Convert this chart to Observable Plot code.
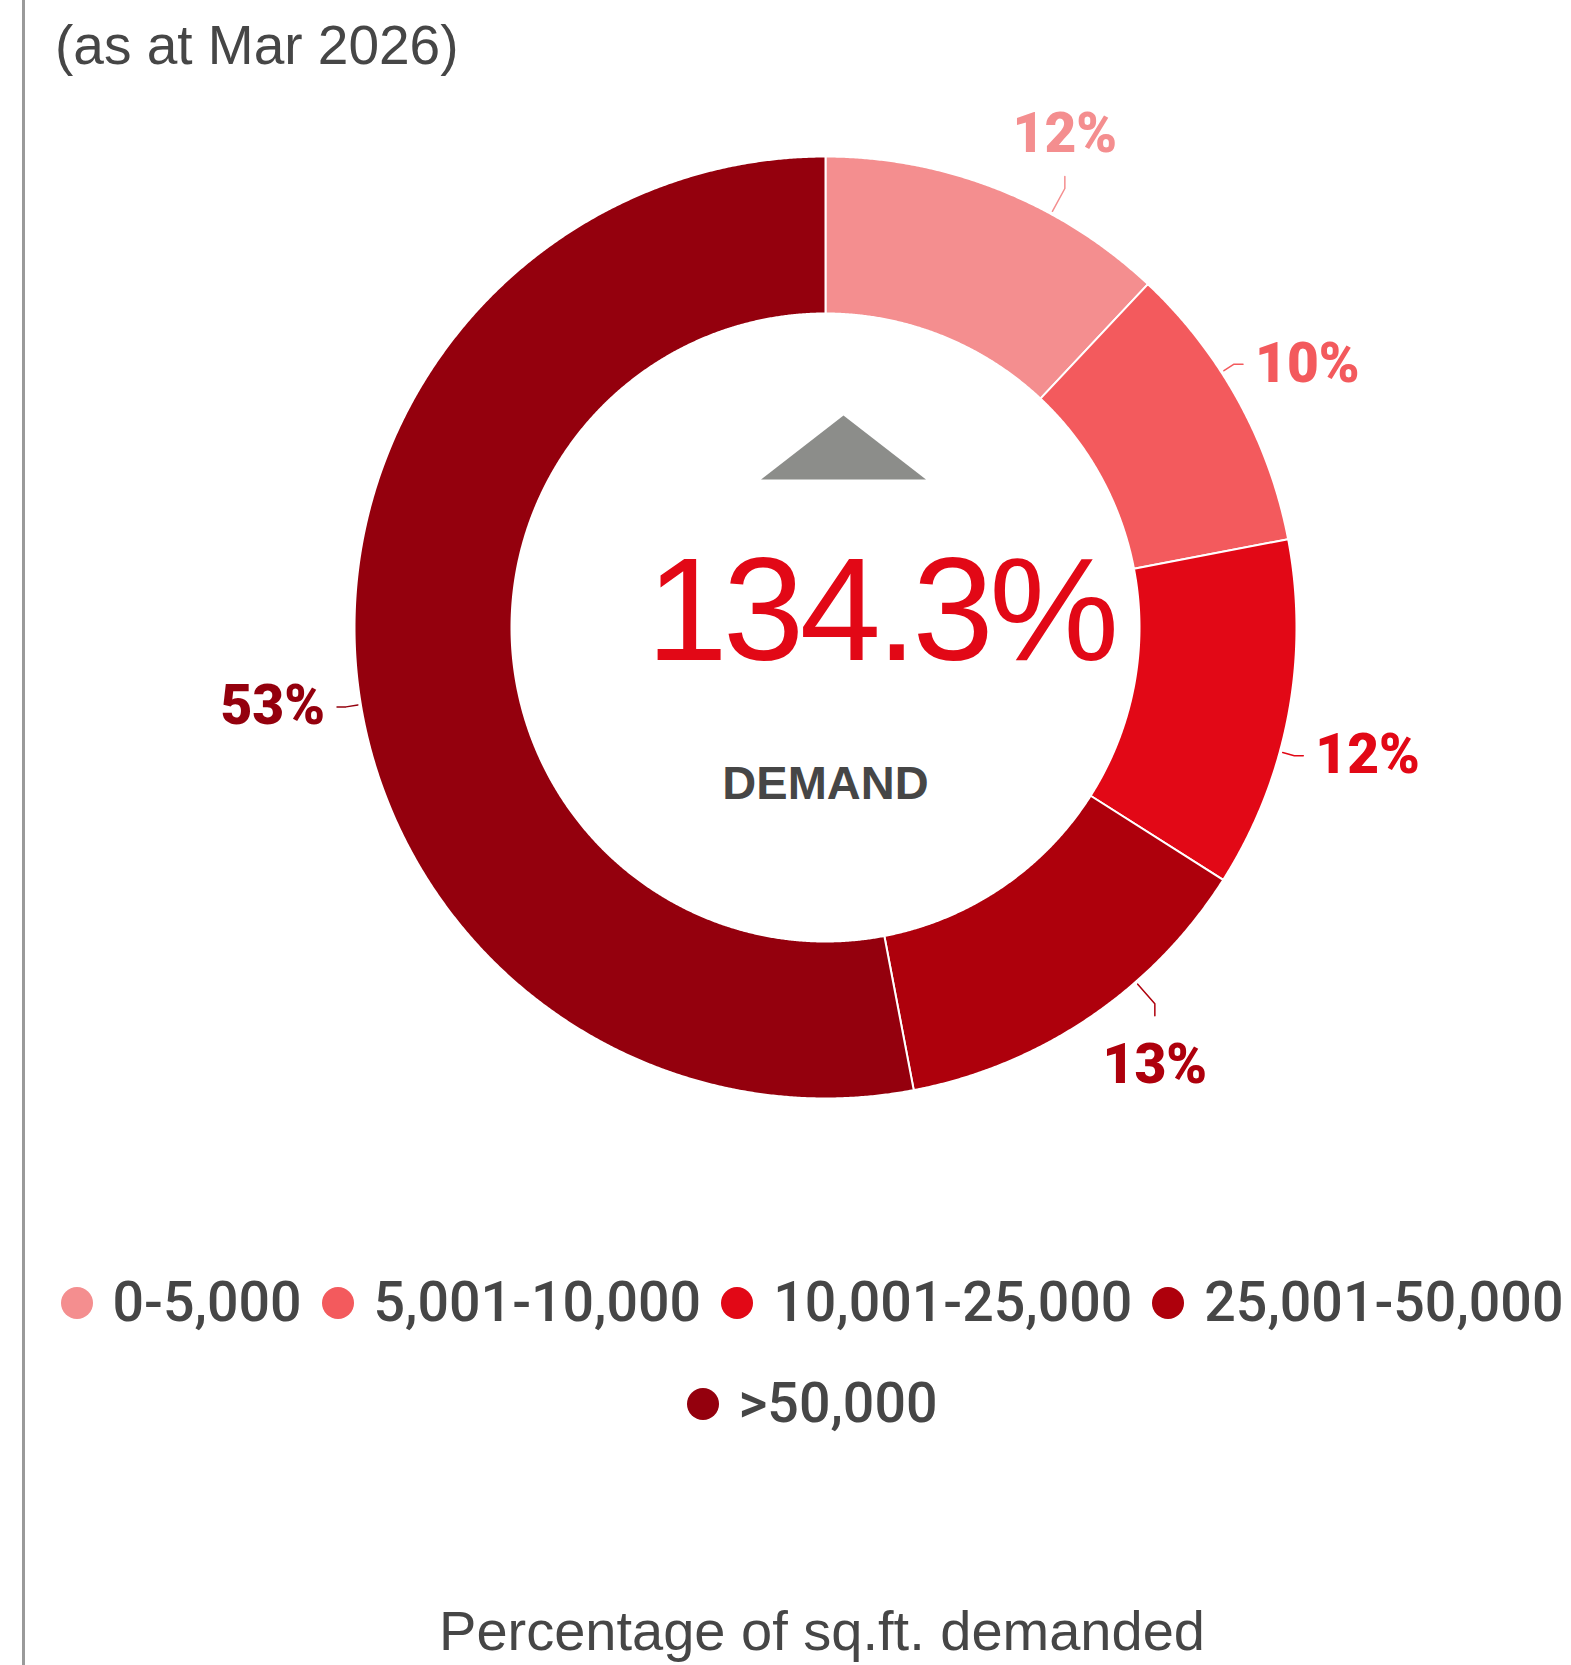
<!DOCTYPE html>
<html><head><meta charset="utf-8">
<script src="https://cdn.jsdelivr.net/npm/d3@7"></script>
<script src="https://cdn.jsdelivr.net/npm/@observablehq/plot@0.6"></script>
<style>
html,body{margin:0;padding:0;background:#fff;}
#page{position:relative;width:1571px;height:1665px;overflow:hidden;background:#fff;}
#rule{position:absolute;left:22px;top:0;width:3px;height:1665px;background:#9a9a9a;}
#subtitle{position:absolute;left:55px;top:18px;font:55px/55px "Liberation Sans",Arial,sans-serif;color:#464646;white-space:nowrap;}
#chart{position:absolute;left:0;top:90px;}
#legend{position:absolute;left:42px;width:1540px;top:1273px;display:flex;flex-wrap:wrap;justify-content:center;row-gap:41px;column-gap:20px;font:500 55.5px/60px Roboto,sans-serif;color:#464646;}
.item{display:flex;align-items:center;white-space:nowrap;}
.sw{width:32px;height:32px;border-radius:50%;margin-right:20px;flex:none;}
#caption{position:absolute;left:222px;width:1200px;top:1603px;text-align:center;font:56px/55px "Liberation Sans",Arial,sans-serif;color:#464646;white-space:nowrap;}
</style>
</head><body>
<div id="page">
  <div id="rule"></div>
  <div id="subtitle"></div>
  <div id="chart"></div>
  <div id="legend"></div>
  <div id="caption"></div>
</div>
<script>
// ---- data ----
const categories = ["0-5,000", "5,001-10,000", "10,001-25,000", "25,001-50,000", ">50,000"];
const shares = [12, 10, 12, 13, 53];
const colors = ["#F48E8F", "#F35A5D", "#E20816", "#AE000C", "#94000D"];
const totalValue = "134.3%";
const totalLabel = "DEMAND";
const subtitleText = "(as at Mar 2026)";
const captionText = "Percentage of sq.ft. demanded";

// ---- layout (not data) ----
const W = 1571, H = 1040, cx = 825, cy = 537;
const R = 471, r0 = 314;
const labelNudgeDeg = [7, -4, 4.5, -7, -4]; // label anchor nudges to avoid crowding

const data = categories.map((c, i) => ({category: c, share: shares[i], color: colors[i]}));
const arcs = d3.pie().sort(null).value(d => d.share)(data);
const pt = (a, rad) => ({x: rad * Math.sin(a), y: -rad * Math.cos(a)});

const marks = [];
arcs.forEach(a => {
  const pts = [];
  const n = Math.max(8, Math.ceil((a.endAngle - a.startAngle) / 0.004));
  for (let k = 0; k <= n; k++) pts.push(pt(a.startAngle + (a.endAngle - a.startAngle) * k / n, R));
  for (let k = n; k >= 0; k--) pts.push(pt(a.startAngle + (a.endAngle - a.startAngle) * k / n, r0));
  marks.push(Plot.line(pts, {x: "x", y: "y", curve: "linear-closed", fill: a.data.color, stroke: "white", strokeWidth: 2}));
});

// labels with leader lines
arcs.forEach((a, i) => {
  const m = (a.startAngle + a.endAngle) / 2 + labelNudgeDeg[i] * Math.PI / 180;
  const s = Math.sin(m), c = Math.cos(m);
  const horiz = Math.abs(s) > 0.7;
  const p0 = pt(m, R + 3), p1 = pt(m, horiz ? R + 15 : R + 29);
  let p2, lab;
  if (horiz) {
    const dir = Math.sign(s);
    p2 = {x: p1.x + dir * 9, y: p1.y};
    lab = {x: p2.x + dir * 12, y: p2.y, textAnchor: dir > 0 ? "start" : "end", lineAnchor: "middle"};
  } else {
    const dir = Math.sign(-c);
    p2 = {x: p1.x, y: p1.y + dir * 12};
    lab = {x: p2.x, y: p2.y + dir * (dir < 0 ? 25 : 28), textAnchor: "middle", lineAnchor: dir < 0 ? "bottom" : "top"};
  }
  marks.push(Plot.line([p0, p1, p2], {x: "x", y: "y", stroke: a.data.color, strokeWidth: 1.5}));
  marks.push(Plot.text([a.data.share + "%"], {
    x: lab.x, y: lab.y, text: d => d, textAnchor: lab.textAnchor, lineAnchor: lab.lineAnchor,
    fill: a.data.color, fontFamily: "Roboto", fontWeight: 900, fontSize: 55
  }));
});

// centre indicator
const wideTriangle = {draw(ctx) { ctx.moveTo(0, -32); ctx.lineTo(82.5, 32); ctx.lineTo(-82.5, 32); ctx.closePath(); }};
marks.push(Plot.dot([0], {x: 18, y: -180, symbol: wideTriangle, r: 5, fill: "#8C8D8A", stroke: "none"}));
marks.push(Plot.text([totalValue], {x: 55, y: 32, text: d => d, lineAnchor: "bottom", textAnchor: "middle",
  fill: "#E20816", fontFamily: "Liberation Sans", fontSize: 146}));
marks.push(Plot.text([totalLabel], {x: 0, y: 171, text: d => d, lineAnchor: "bottom", textAnchor: "middle",
  fill: "#464646", fontFamily: "Liberation Sans", fontWeight: 700, fontSize: 47}));

const chart = Plot.plot({
  width: W, height: H, margin: 0,
  x: {domain: [-cx, W - cx], range: [0, W], axis: null},
  y: {domain: [-cy, H - cy], range: [0, H], axis: null},
  style: {background: "transparent", overflow: "visible"},
  marks
});
chart.querySelectorAll("text").forEach(t => {
  if (t.textContent === totalValue) t.setAttribute("letter-spacing", "-4.5");
});
document.getElementById("chart").appendChild(chart);

document.getElementById("subtitle").textContent = subtitleText;
document.getElementById("caption").textContent = captionText;
const legend = document.getElementById("legend");
categories.forEach((c, i) => {
  const it = document.createElement("div"); it.className = "item";
  const sw = document.createElement("span"); sw.className = "sw"; sw.style.background = colors[i];
  const tx = document.createElement("span"); tx.textContent = c;
  it.appendChild(sw); it.appendChild(tx); legend.appendChild(it);
});
</script>
</body></html>
